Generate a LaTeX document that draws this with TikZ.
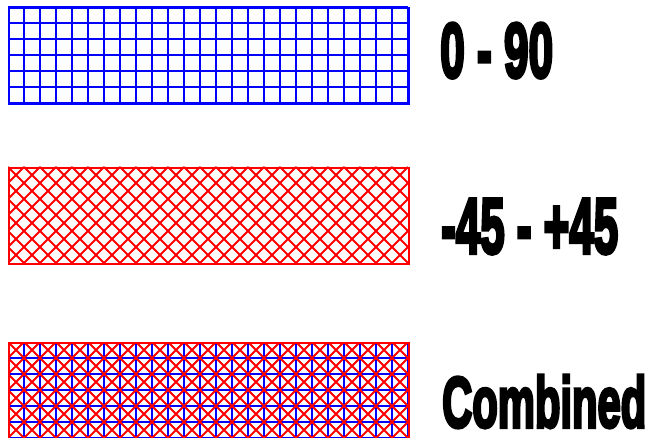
\documentclass[tikz,border=0pt]{standalone}
\usepackage{fontspec}
\setmainfont{Liberation Sans}
\newfontfamily\heavy[FakeBold=5]{Liberation Sans Bold}
\usepackage{graphicx}
\tikzset{
  gridline/.style={line width=1.8pt},
  frame/.style={line width=2pt},
  lbl/.style={anchor=north west, inner sep=0pt, text=black}
}
\begin{document}
\begin{tikzpicture}[x=1pt,y=-1pt]
\useasboundingbox (0,0) rectangle (655,438);
% box 1: 0-90
\begin{scope}
  \clip (8,7) rectangle (408,103);
  \draw[blue, gridline, shift={(8,7)}] (0,0) grid[step=16pt] (400,96);
\end{scope}
\node[draw=blue, frame, inner sep=0pt, minimum width=400pt, minimum height=96pt, anchor=north west] (b1) at (8,7) {};
% box 2: -45/+45
\begin{scope}
  \clip (8,167) rectangle (408,263);
  \foreach \k in {-96,-80,...,496} {
    \draw[red, gridline] (8+\k,167) -- ++(96,96);
    \draw[red, gridline] (8+\k,167) -- ++(-96,96);
  }
\end{scope}
\node[draw=red, frame, inner sep=0pt, minimum width=400pt, minimum height=96pt, anchor=north west] (b2) at (8,167) {};
% box 3: combined
\begin{scope}
  \clip (8,342) rectangle (408,438);
  \draw[blue, gridline, shift={(8,342)}] (0,0) grid[step=16pt] (400,96);
  \foreach \k in {-96,-80,...,496} {
    \draw[red, gridline] (8+\k,342) -- ++(96,96);
    \draw[red, gridline] (8+\k,342) -- ++(-96,96);
  }
\end{scope}
\node[draw=red, frame, inner sep=0pt, minimum width=400pt, minimum height=96pt, anchor=north west] (b3) at (8,342) {};
% labels
\node[lbl] (t1) at (440,23) {\resizebox{113pt}{54pt}{\heavy 0 - 90}};
\node[lbl] (t2) at (441,199) {\resizebox{177pt}{54pt}{\heavy -45 - +45}};
\node[lbl] (t3) at (442,375) {\resizebox{204pt}{52pt}{\heavy Combined}};
\end{tikzpicture}
\end{document}
